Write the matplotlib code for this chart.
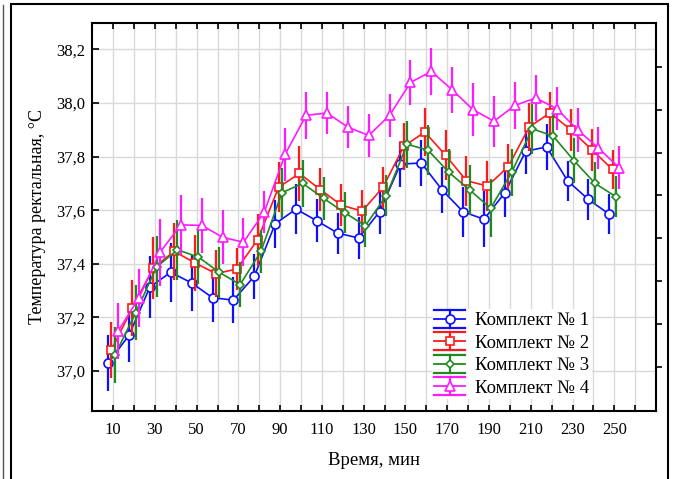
import numpy as np
import matplotlib
matplotlib.use("Agg")
from matplotlib import pyplot as plt
from matplotlib.lines import Line2D
from matplotlib.patches import Rectangle
from matplotlib.legend_handler import HandlerBase
from matplotlib.ticker import FuncFormatter

plt.rcParams['font.family'] = ['Liberation Serif', 'DejaVu Serif']

# time points, minutes
minutes = [10, 20, 30, 40, 50, 60, 70, 80, 90, 100, 110, 120, 130,
           140, 150, 160, 170, 180, 190, 200, 210, 220, 230, 240, 250]

# mean rectal temperature, deg C
set1 = [37.029, 37.133, 37.313, 37.368, 37.328, 37.273, 37.264, 37.353, 37.549, 37.604,
        37.560, 37.514, 37.496, 37.594, 37.772, 37.776, 37.675, 37.594, 37.566, 37.665,
        37.820, 37.836, 37.710, 37.640, 37.585]
set2 = [37.078, 37.235, 37.384, 37.446, 37.403, 37.363, 37.380, 37.489, 37.685, 37.737,
        37.677, 37.619, 37.596, 37.685, 37.838, 37.892, 37.805, 37.710, 37.690, 37.762,
        37.910, 37.963, 37.900, 37.826, 37.752]
set3 = [37.058, 37.217, 37.388, 37.452, 37.425, 37.368, 37.322, 37.446, 37.665, 37.700,
        37.644, 37.591, 37.542, 37.654, 37.846, 37.824, 37.741, 37.675, 37.607, 37.741,
        37.904, 37.876, 37.784, 37.700, 37.650]
set4 = [37.149, 37.273, 37.442, 37.545, 37.543, 37.499, 37.480, 37.593, 37.809, 37.954,
        37.963, 37.910, 37.879, 37.954, 38.077, 38.118, 38.049, 37.975, 37.932, 37.991,
        38.019, 37.979, 37.900, 37.832, 37.758]

# error bar half-lengths
err1 = [0.105, 0.100, 0.114, 0.111, 0.104, 0.092, 0.085, 0.084, 0.089, 0.093,
        0.080, 0.077, 0.077, 0.082, 0.084, 0.087, 0.085, 0.093, 0.105, 0.089,
        0.084, 0.087, 0.074, 0.076, 0.074]
err2 = [0.105, 0.104, 0.114, 0.105, 0.105, 0.089, 0.080, 0.097, 0.093, 0.102,
        0.080, 0.079, 0.080, 0.077, 0.087, 0.089, 0.093, 0.093, 0.094, 0.084,
        0.089, 0.079, 0.079, 0.078, 0.072]
err3 = [0.105, 0.102, 0.114, 0.111, 0.099, 0.095, 0.084, 0.080, 0.093, 0.089,
        0.080, 0.077, 0.079, 0.077, 0.087, 0.093, 0.089, 0.093, 0.108, 0.087,
        0.093, 0.080, 0.084, 0.080, 0.077]
err4 = [0.105, 0.108, 0.124, 0.113, 0.102, 0.100, 0.089, 0.079, 0.099, 0.087,
        0.080, 0.079, 0.079, 0.079, 0.083, 0.087, 0.087, 0.098, 0.095, 0.087,
        0.085, 0.080, 0.083, 0.080, 0.080]

labels = ["Комплект № 1", "Комплект № 2", "Комплект № 3", "Комплект № 4"]
colors = ["#0f0fff", "#ff1a1a", "#1f8a1f", "#ff1aff"]
markers = ["o", "s", "D", "^"]
msizes = [6.5, 5.8, 4.3, 6.8]
shift = [-2.4, -0.8, 0.8, 2.4]  # horizontal offset of each series, min

# unlabelled ticks on the right spine
right_ticks = [37.016, 37.176, 37.335, 37.495, 37.655, 37.815, 37.974, 38.134]


class ErrbarHandler(HandlerBase):
    def create_artists(self, legend, orig_handle, xdescent, ydescent,
                       width, height, fontsize, trans):
        c = orig_handle.get_color()
        x0 = -xdescent
        x1 = x0 + width
        xm = (x0 + x1) / 2
        cy = height / 2 - ydescent
        d = 0.48 * fontsize
        arts = [
            Line2D([x0, x1], [cy, cy], color=c, lw=1.3),
            Line2D([x0, x1], [cy + d, cy + d], color=c, lw=1.6),
            Line2D([x0, x1], [cy - d, cy - d], color=c, lw=1.6),
            Line2D([xm, xm], [cy - d, cy + d], color=c, lw=1.6),
            Line2D([xm], [cy], marker=orig_handle.get_marker(),
                   ms=orig_handle.get_markersize(), mfc='white', mec=c, mew=1.2, ls='none'),
        ]
        for a in arts:
            a.set_transform(trans)
        return arts


fig = plt.figure(figsize=(6.78, 4.79), dpi=100)
ax = fig.add_axes([0.1361, 0.142, 0.8315, 0.8106])

series = [set1, set2, set3, set4]
errs = [err1, err2, err3, err4]
t = np.array(minutes, dtype=float)
handles = []
for i in range(4):
    x = t + shift[i]
    ax.errorbar(x, series[i], yerr=errs[i], fmt='none', ecolor=colors[i],
                elinewidth=1.6, capsize=0, zorder=3 + i)
    ax.plot(x, series[i], color=colors[i], lw=1.2, marker=markers[i], ms=msizes[i],
            mfc='white', mec=colors[i], mew=1.2, zorder=4 + i)
    handles.append(Line2D([], [], color=colors[i], marker=markers[i], ms=msizes[i]))

ax.set_xlim(0, 270)
ax.set_ylim(36.85, 38.3)
ax.set_xticks(np.arange(10, 251, 20))
ax.set_xticks(np.arange(10, 271, 10), minor=True)
ax.set_yticks([37.0, 37.2, 37.4, 37.6, 37.8, 38.0, 38.2])
ax.yaxis.set_major_formatter(FuncFormatter(lambda v, p: ("%.1f" % v).replace('.', ',')))

ax.grid(True, which='both', axis='x', color='#d9d9d9', lw=1, zorder=0)
ax.grid(True, which='major', axis='y', color='#d9d9d9', lw=1, zorder=0)
ax.set_axisbelow(True)

ax.tick_params(axis='x', which='both', direction='in', length=4, width=1.2,
               top=True, bottom=True, labelsize=12, pad=8)
ax.tick_params(axis='y', which='major', direction='in', length=5, width=1.2,
               left=True, right=False, labelsize=12, pad=5)
for s in ax.spines.values():
    s.set_linewidth(1.5)

ax2 = ax.twinx()
ax2.set_ylim(ax.get_ylim())
ax2.set_yticks(right_ticks)
ax2.set_yticklabels([])
ax2.tick_params(axis='y', direction='out', length=4, width=1.2)
for s in ax2.spines.values():
    s.set_visible(False)

ax.set_xlabel("Время, мин", fontsize=13.5, labelpad=10)
ax.set_ylabel("Температура ректальная, °С", fontsize=13, labelpad=7)

leg = ax.legend(handles, labels, handler_map={Line2D: ErrbarHandler()},
                loc='lower left', bbox_to_anchor=(0.602, 0.03), fontsize=13.5,
                frameon=True, fancybox=False, framealpha=1, edgecolor='none',
                borderpad=0.15, borderaxespad=0, handlelength=1.65,
                handletextpad=0.5, labelspacing=0.28)
leg.set_zorder(10)

# outer frames
fig.add_artist(Rectangle((11 / 678, -0.02), (668 - 11) / 678, 1 - 4 / 479 + 0.02,
                         transform=fig.transFigure, fill=False, ec='black', lw=1.5))
fig.add_artist(Line2D([2.7 / 678, 2.7 / 678], [0, 1 - 5 / 479], transform=fig.transFigure,
                      color='#555555', lw=1))

fig.savefig("out.png", dpi=100)
